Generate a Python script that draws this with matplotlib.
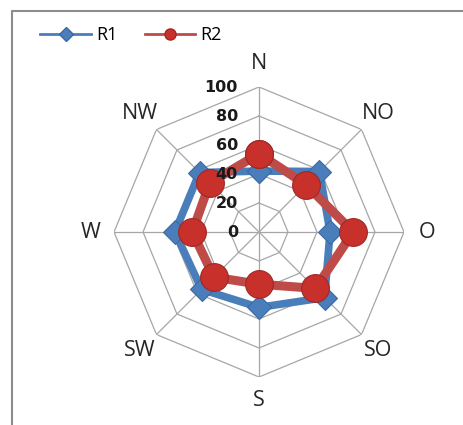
import numpy as np
import matplotlib
matplotlib.use("Agg")
import matplotlib.pyplot as plt
from matplotlib.lines import Line2D
from matplotlib.transforms import offset_copy

directions = ["N", "NO", "O", "SO", "S", "SW", "W", "NW"]
r1 = [42, 59, 49, 64, 52, 56, 58, 58]
r2 = [54, 46, 65, 55, 36, 44, 46, 48]
rticks = [0, 20, 40, 60, 80, 100]
series_names = ["R1", "R2"]

W, H = 464, 425
fig = plt.figure(figsize=(W / 100, H / 100), dpi=100)
fig.patch.set_facecolor("white")

# chart border (top and left only visible)
fig.add_artist(Line2D([12 / W, 12 / W, 1.01], [-0.01, 1 - 11 / H, 1 - 11 / H],
                      transform=fig.transFigure, color="#8c8c8c", lw=1.5))

cx, cy, R = 259, 232, 145
ax = fig.add_axes([(cx - R) / W, (H - cy - R) / H, 2 * R / W, 2 * R / H],
                  projection="polar")
ax.set_theta_zero_location("N")
ax.set_theta_direction(-1)
ax.set_ylim(0, 100)
ax.grid(False)
ax.spines["polar"].set_visible(False)
ax.set_xticks([])
ax.set_yticks([])
ax.patch.set_alpha(0)

n = len(directions)
angles = np.arange(n) * 2 * np.pi / n
ang_closed = np.append(angles, angles[0])

grid_col = "#a6a6a6"
for t in rticks[1:]:
    ax.plot(ang_closed, [t] * (n + 1), color=grid_col, lw=0.9, zorder=1)
for a in angles:
    ax.plot([a, a], [0, 100], color=grid_col, lw=0.9, zorder=1)

ax.plot(ang_closed, r1 + [r1[0]], color="#4a7ebb", lw=5.5, solid_joinstyle="round",
        marker="D", markersize=12, markerfacecolor="#4a7ebb",
        markeredgecolor="#3a6aa5", markeredgewidth=0.8, zorder=3)
ax.plot(ang_closed, r2 + [r2[0]], color="#be4b48", lw=6.5, solid_joinstyle="round",
        marker="o", markersize=20, markerfacecolor="#c8302c",
        markeredgecolor="#a02824", markeredgewidth=0.8, zorder=4)

for a, lab in zip(angles, directions):
    ax.text(a, 116, lab, ha="center", va="center", fontsize=15.5,
            color="#262626", family="Open Sans")

tr = offset_copy(ax.transData, fig=fig, x=-21 * 72 / 100, y=0, units="points")
for t in rticks:
    ax.text(0, t, str(t), transform=tr, ha="right", va="center",
            fontsize=11.5, fontweight="bold", color="#1a1a1a", zorder=6)

handles = [
    Line2D([], [], color="#4a7ebb", lw=2, marker="D", markersize=7,
           markerfacecolor="#4a7ebb", markeredgecolor="#3a6aa5"),
    Line2D([], [], color="#be4b48", lw=2, marker="o", markersize=8,
           markerfacecolor="#c8302c", markeredgecolor="#a02824"),
]
fig.legend(handles, series_names, loc="center left",
           bbox_to_anchor=(24 / W, 1 - 35 / H), ncol=2, frameon=False,
           handlelength=2.8, columnspacing=1.5, handletextpad=0.3,
           prop={"family": "Open Sans", "size": 13})

fig.savefig("out.png", dpi=100, facecolor="white")
